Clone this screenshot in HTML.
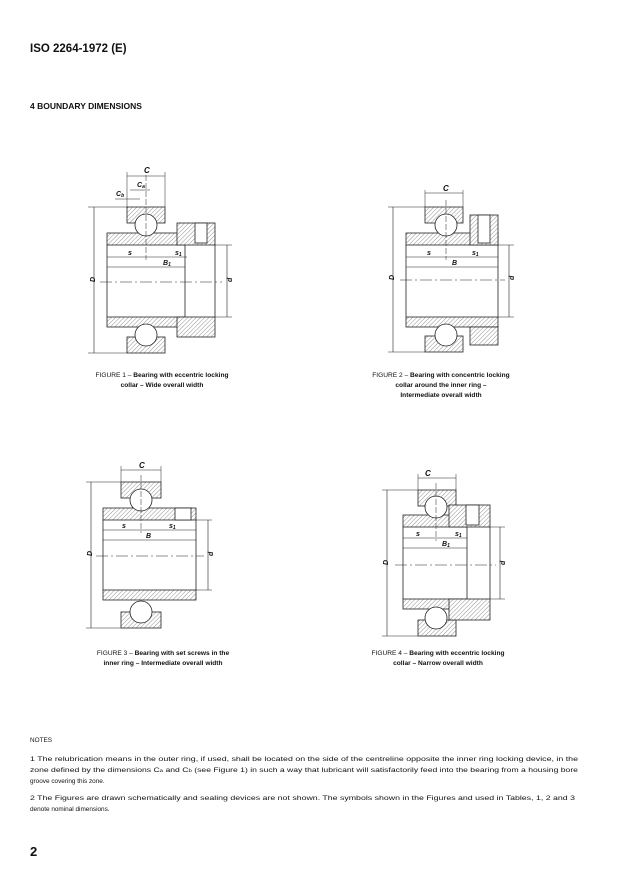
<!DOCTYPE html>
<html><head><meta charset="utf-8"><style>
body{margin:0;background:#fff;}
svg{display:block;font-family:"Liberation Sans",sans-serif;}
</style></head><body>
<svg width="620" height="876" viewBox="0 0 620 876" xmlns="http://www.w3.org/2000/svg">
<defs>
<pattern id="h" width="3" height="3" patternUnits="userSpaceOnUse" patternTransform="rotate(45)">
<rect width="3" height="3" fill="#fff"/><line x1="0" y1="0" x2="0" y2="3" stroke="#777" stroke-width="0.8"/>
</pattern>
</defs>
<text x="30" y="52" font-size="11.5" font-weight="bold" fill="#111">ISO 2264-1972 (E)</text>
<text x="30" y="109" font-size="8.5" font-weight="bold" fill="#111">4  BOUNDARY DIMENSIONS</text>

<g stroke="#222" stroke-width="0.8" fill="none">
<!-- FIGURE 1 -->
<rect x="127" y="207" width="38" height="16" fill="url(#h)"/>
<rect x="127" y="337" width="38" height="16" fill="url(#h)"/>
<rect x="107" y="233" width="78" height="12" fill="url(#h)"/>
<rect x="107" y="317" width="78" height="10" fill="url(#h)"/>
<rect x="177" y="223" width="38" height="22" fill="url(#h)"/>
<rect x="177" y="317" width="38" height="20" fill="url(#h)"/>
<rect x="195" y="223" width="12" height="20" fill="#fff"/>
<circle cx="146" cy="225" r="11" fill="#fff"/>
<circle cx="146" cy="335" r="11" fill="#fff"/>
<line x1="107" y1="245" x2="107" y2="317"/><line x1="185" y1="245" x2="185" y2="317"/><line x1="215" y1="245" x2="215" y2="317"/>
<line x1="88" y1="207" x2="127" y2="207" stroke-width="0.5"/><line x1="88" y1="353" x2="127" y2="353" stroke-width="0.5"/>
<line x1="94" y1="207" x2="94" y2="353" stroke-width="0.6"/>
<line x1="215" y1="245" x2="232" y2="245" stroke-width="0.5"/><line x1="215" y1="317" x2="232" y2="317" stroke-width="0.5"/>
<line x1="227" y1="245" x2="227" y2="317" stroke-width="0.6"/>
<line x1="100" y1="282" x2="222" y2="282" stroke-width="0.5" stroke-dasharray="12,3,2,3"/>
<line x1="107" y1="257" x2="187" y2="257" stroke-width="0.5"/><line x1="107" y1="267" x2="185" y2="267" stroke-width="0.5"/>
<line x1="146" y1="175" x2="146" y2="260" stroke-width="0.5" stroke-dasharray="6,2"/>
<line x1="127" y1="172" x2="127" y2="207" stroke-width="0.5"/><line x1="165" y1="172" x2="165" y2="207" stroke-width="0.5"/>
<line x1="127" y1="176" x2="165" y2="176" stroke-width="0.5"/>
<line x1="130" y1="190" x2="150" y2="190" stroke-width="0.5"/>
<line x1="115" y1="199" x2="140" y2="199" stroke-width="0.5"/>
<!-- FIGURE 2 -->
<rect x="425" y="207" width="38" height="16" fill="url(#h)"/>
<rect x="425" y="336" width="38" height="16" fill="url(#h)"/>
<rect x="406" y="233" width="92" height="12" fill="url(#h)"/>
<rect x="406" y="317" width="92" height="10" fill="url(#h)"/>
<rect x="470" y="215" width="28" height="30" fill="url(#h)"/>
<rect x="470" y="327" width="28" height="18" fill="url(#h)"/>
<rect x="478" y="215" width="12" height="28" fill="#fff"/>
<circle cx="446" cy="225" r="11" fill="#fff"/>
<circle cx="446" cy="335" r="11" fill="#fff"/>
<line x1="406" y1="245" x2="406" y2="317"/><line x1="498" y1="245" x2="498" y2="317"/>
<line x1="388" y1="207" x2="425" y2="207" stroke-width="0.5"/><line x1="388" y1="352" x2="425" y2="352" stroke-width="0.5"/>
<line x1="393" y1="207" x2="393" y2="352" stroke-width="0.6"/>
<line x1="498" y1="245" x2="514" y2="245" stroke-width="0.5"/><line x1="498" y1="317" x2="514" y2="317" stroke-width="0.5"/>
<line x1="509" y1="245" x2="509" y2="317" stroke-width="0.6"/>
<line x1="400" y1="280" x2="505" y2="280" stroke-width="0.5" stroke-dasharray="12,3,2,3"/>
<line x1="406" y1="257" x2="498" y2="257" stroke-width="0.5"/><line x1="406" y1="267" x2="498" y2="267" stroke-width="0.5"/>
<line x1="446" y1="200" x2="446" y2="260" stroke-width="0.5" stroke-dasharray="6,2"/>
<line x1="425" y1="190" x2="425" y2="207" stroke-width="0.5"/><line x1="463" y1="190" x2="463" y2="207" stroke-width="0.5"/>
<line x1="425" y1="193" x2="463" y2="193" stroke-width="0.5"/>
<!-- FIGURE 3 -->
<rect x="121" y="482" width="40" height="16" fill="url(#h)"/>
<rect x="121" y="612" width="40" height="16" fill="url(#h)"/>
<rect x="103" y="508" width="93" height="12" fill="url(#h)"/>
<rect x="103" y="590" width="93" height="10" fill="url(#h)"/>
<rect x="175" y="508" width="16" height="12" fill="#fff"/>
<circle cx="141" cy="500" r="11" fill="#fff"/>
<circle cx="141" cy="612" r="11" fill="#fff"/>
<line x1="103" y1="520" x2="103" y2="590"/><line x1="196" y1="520" x2="196" y2="590"/>
<line x1="86" y1="482" x2="121" y2="482" stroke-width="0.5"/><line x1="86" y1="628" x2="121" y2="628" stroke-width="0.5"/>
<line x1="91" y1="482" x2="91" y2="628" stroke-width="0.6"/>
<line x1="196" y1="520" x2="212" y2="520" stroke-width="0.5"/><line x1="196" y1="590" x2="212" y2="590" stroke-width="0.5"/>
<line x1="208" y1="520" x2="208" y2="590" stroke-width="0.6"/>
<line x1="96" y1="556" x2="204" y2="556" stroke-width="0.5" stroke-dasharray="12,3,2,3"/>
<line x1="103" y1="530" x2="196" y2="530" stroke-width="0.5"/><line x1="103" y1="540" x2="196" y2="540" stroke-width="0.5"/>
<line x1="141" y1="475" x2="141" y2="533" stroke-width="0.5" stroke-dasharray="6,2"/>
<line x1="121" y1="466" x2="121" y2="482" stroke-width="0.5"/><line x1="161" y1="466" x2="161" y2="482" stroke-width="0.5"/>
<line x1="121" y1="470" x2="161" y2="470" stroke-width="0.5"/>
<!-- FIGURE 4 -->
<rect x="418" y="490" width="38" height="16" fill="url(#h)"/>
<rect x="418" y="620" width="38" height="16" fill="url(#h)"/>
<rect x="403" y="515" width="64" height="12" fill="url(#h)"/>
<rect x="403" y="599" width="64" height="10" fill="url(#h)"/>
<rect x="449" y="505" width="41" height="22" fill="url(#h)"/>
<rect x="449" y="599" width="41" height="21" fill="url(#h)"/>
<rect x="466" y="505" width="13" height="20" fill="#fff"/>
<circle cx="436" cy="507" r="11" fill="#fff"/>
<circle cx="436" cy="618" r="11" fill="#fff"/>
<line x1="403" y1="527" x2="403" y2="599"/><line x1="467" y1="527" x2="467" y2="599"/><line x1="490" y1="527" x2="490" y2="599"/>
<line x1="382" y1="490" x2="418" y2="490" stroke-width="0.5"/><line x1="382" y1="636" x2="418" y2="636" stroke-width="0.5"/>
<line x1="387" y1="490" x2="387" y2="636" stroke-width="0.6"/>
<line x1="490" y1="527" x2="505" y2="527" stroke-width="0.5"/><line x1="490" y1="599" x2="505" y2="599" stroke-width="0.5"/>
<line x1="500" y1="527" x2="500" y2="599" stroke-width="0.6"/>
<line x1="395" y1="565" x2="496" y2="565" stroke-width="0.5" stroke-dasharray="12,3,2,3"/>
<line x1="403" y1="538" x2="467" y2="538" stroke-width="0.5"/><line x1="403" y1="548" x2="467" y2="548" stroke-width="0.5"/>
<line x1="436" y1="483" x2="436" y2="541" stroke-width="0.5" stroke-dasharray="6,2"/>
<line x1="418" y1="474" x2="418" y2="490" stroke-width="0.5"/><line x1="456" y1="474" x2="456" y2="490" stroke-width="0.5"/>
<line x1="418" y1="478" x2="456" y2="478" stroke-width="0.5"/>
</g>

<g font-size="7" font-style="italic" font-weight="bold" fill="#111">
<text x="144" y="173" font-size="8">C</text><text x="137" y="187">C<tspan font-size="5" dy="1">a</tspan></text><text x="116" y="196">C<tspan font-size="5" dy="1">b</tspan></text>
<text x="128" y="255">s</text><text x="175" y="255">s<tspan font-size="5" dy="1">1</tspan></text><text x="163" y="265">B<tspan font-size="5" dy="1">1</tspan></text>
<text x="92" y="285" transform="rotate(-90 92 282)">D</text><text x="229" y="285" transform="rotate(-90 229 282)">d</text>
<text x="443" y="191" font-size="8">C</text>
<text x="427" y="255">s</text><text x="472" y="255">s<tspan font-size="5" dy="1">1</tspan></text><text x="452" y="265">B</text>
<text x="391" y="283" transform="rotate(-90 391 280)">D</text><text x="511" y="283" transform="rotate(-90 511 280)">d</text>
<text x="139" y="468" font-size="8">C</text>
<text x="122" y="528">s</text><text x="169" y="528">s<tspan font-size="5" dy="1">1</tspan></text><text x="146" y="538">B</text>
<text x="89" y="559" transform="rotate(-90 89 556)">D</text><text x="210" y="559" transform="rotate(-90 210 556)">d</text>
<text x="425" y="476" font-size="8">C</text>
<text x="416" y="536">s</text><text x="455" y="536">s<tspan font-size="5" dy="1">1</tspan></text><text x="442" y="546">B<tspan font-size="5" dy="1">1</tspan></text>
<text x="385" y="568" transform="rotate(-90 385 565)">D</text><text x="502" y="568" transform="rotate(-90 502 565)">d</text>
</g>

<g font-size="6.6" fill="#111" text-anchor="middle">
<text x="162" y="377">FIGURE 1 – <tspan font-weight="bold">Bearing with eccentric locking</tspan></text>
<text x="162" y="387" font-weight="bold">collar – Wide overall width</text>
<text x="441" y="377">FIGURE 2 – <tspan font-weight="bold">Bearing with concentric locking</tspan></text>
<text x="441" y="387" font-weight="bold">collar around the inner ring –</text>
<text x="441" y="397" font-weight="bold">Intermediate overall width</text>
<text x="163" y="655">FIGURE 3 – <tspan font-weight="bold">Bearing with set screws in the</tspan></text>
<text x="163" y="665" font-weight="bold">inner ring – Intermediate overall width</text>
<text x="438" y="655">FIGURE 4 – <tspan font-weight="bold">Bearing with eccentric locking</tspan></text>
<text x="438" y="665" font-weight="bold">collar – Narrow overall width</text>
</g>

<g font-size="6.4" fill="#111">
<text x="30" y="742">NOTES</text>
<text x="30" y="761" textLength="548" lengthAdjust="spacingAndGlyphs">1  The relubrication means in the outer ring, if used, shall be located on the side of the centreline opposite the inner ring locking device, in the</text>
<text x="30" y="772" textLength="548" lengthAdjust="spacingAndGlyphs">zone defined by the dimensions C<tspan font-size="4.5">a</tspan> and C<tspan font-size="4.5">b</tspan> (see Figure 1) in such a way that lubricant will satisfactorily feed into the bearing from a housing bore</text>
<text x="30" y="783">groove covering this zone.</text>
<text x="30" y="800" textLength="545" lengthAdjust="spacingAndGlyphs">2  The Figures are drawn schematically and sealing devices are not shown. The symbols shown in the Figures and used in Tables, 1, 2 and 3</text>
<text x="30" y="811">denote nominal dimensions.</text>
</g>
<text x="30" y="856" font-size="13" font-weight="bold" fill="#111">2</text>
</svg>
</body></html>
